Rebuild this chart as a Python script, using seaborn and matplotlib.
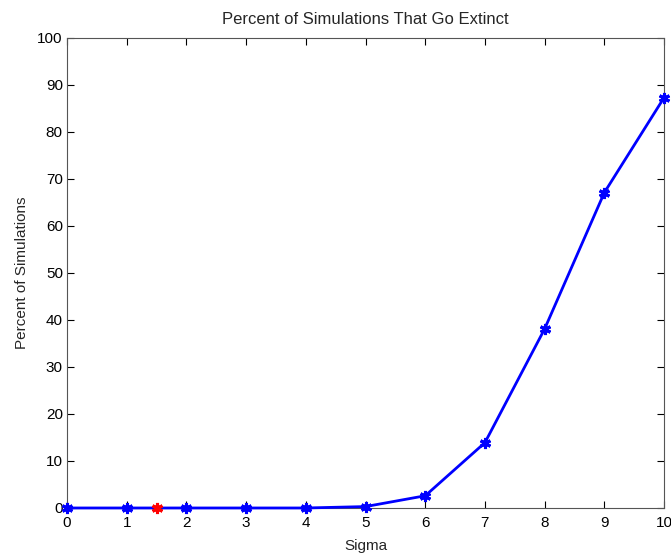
import matplotlib
matplotlib.use("Agg")
import matplotlib.pyplot as plt
import seaborn as sns
import pandas as pd

sigma = [0, 1, 2, 3, 4, 5, 6, 7, 8, 9, 10]
percent = [0, 0, 0, 0, 0, 0.3, 2.6, 13.9, 38.1, 67.1, 87.3]
red_sigma = [1.5]
red_percent = [0]
x_ticks = list(range(0, 11))
y_ticks = list(range(0, 101, 10))

sns.set_style("white")
plt.rcParams['font.family'] = ['Liberation Sans', 'DejaVu Sans']

fig = plt.figure(figsize=(6.71, 5.57), dpi=100)
ax = fig.add_axes([0.0999, 0.088, 0.8897, 0.8438])

df = pd.DataFrame({"Sigma": sigma, "Percent": percent})
sns.lineplot(data=df, x="Sigma", y="Percent", ax=ax, color="#0000ff", linewidth=2,
             marker=(6, 2, 0), markersize=8, markeredgewidth=2.2, markeredgecolor="#0000ff",
             clip_on=False, zorder=5)
dr = pd.DataFrame({"Sigma": red_sigma, "Percent": red_percent})
sns.lineplot(data=dr, x="Sigma", y="Percent", ax=ax, color="#ff0000", linewidth=0,
             marker=(6, 2, 0), markersize=8, markeredgewidth=2.2, markeredgecolor="#ff0000",
             clip_on=False, zorder=6)

ax.set_xlim(0, 10)
ax.set_ylim(0, 100)
ax.set_xticks(x_ticks)
ax.set_yticks(y_ticks)
ax.tick_params(direction="in", length=5, width=0.8, colors="black", labelsize=11,
               top=True, right=True, bottom=True, left=True, pad=3)
ax.tick_params(axis="x", pad=6)
for s in ax.spines.values():
    s.set_visible(True)
    s.set_color("#555555")
    s.set_linewidth(0.8)
ax.set_xlabel("Sigma", fontsize=11, labelpad=6)
ax.set_ylabel("Percent of Simulations", fontsize=11, labelpad=6)
ax.set_title("Percent of Simulations That Go Extinct", fontsize=12, pad=10)
ax.grid(False)

fig.savefig("out.png", dpi=100)
